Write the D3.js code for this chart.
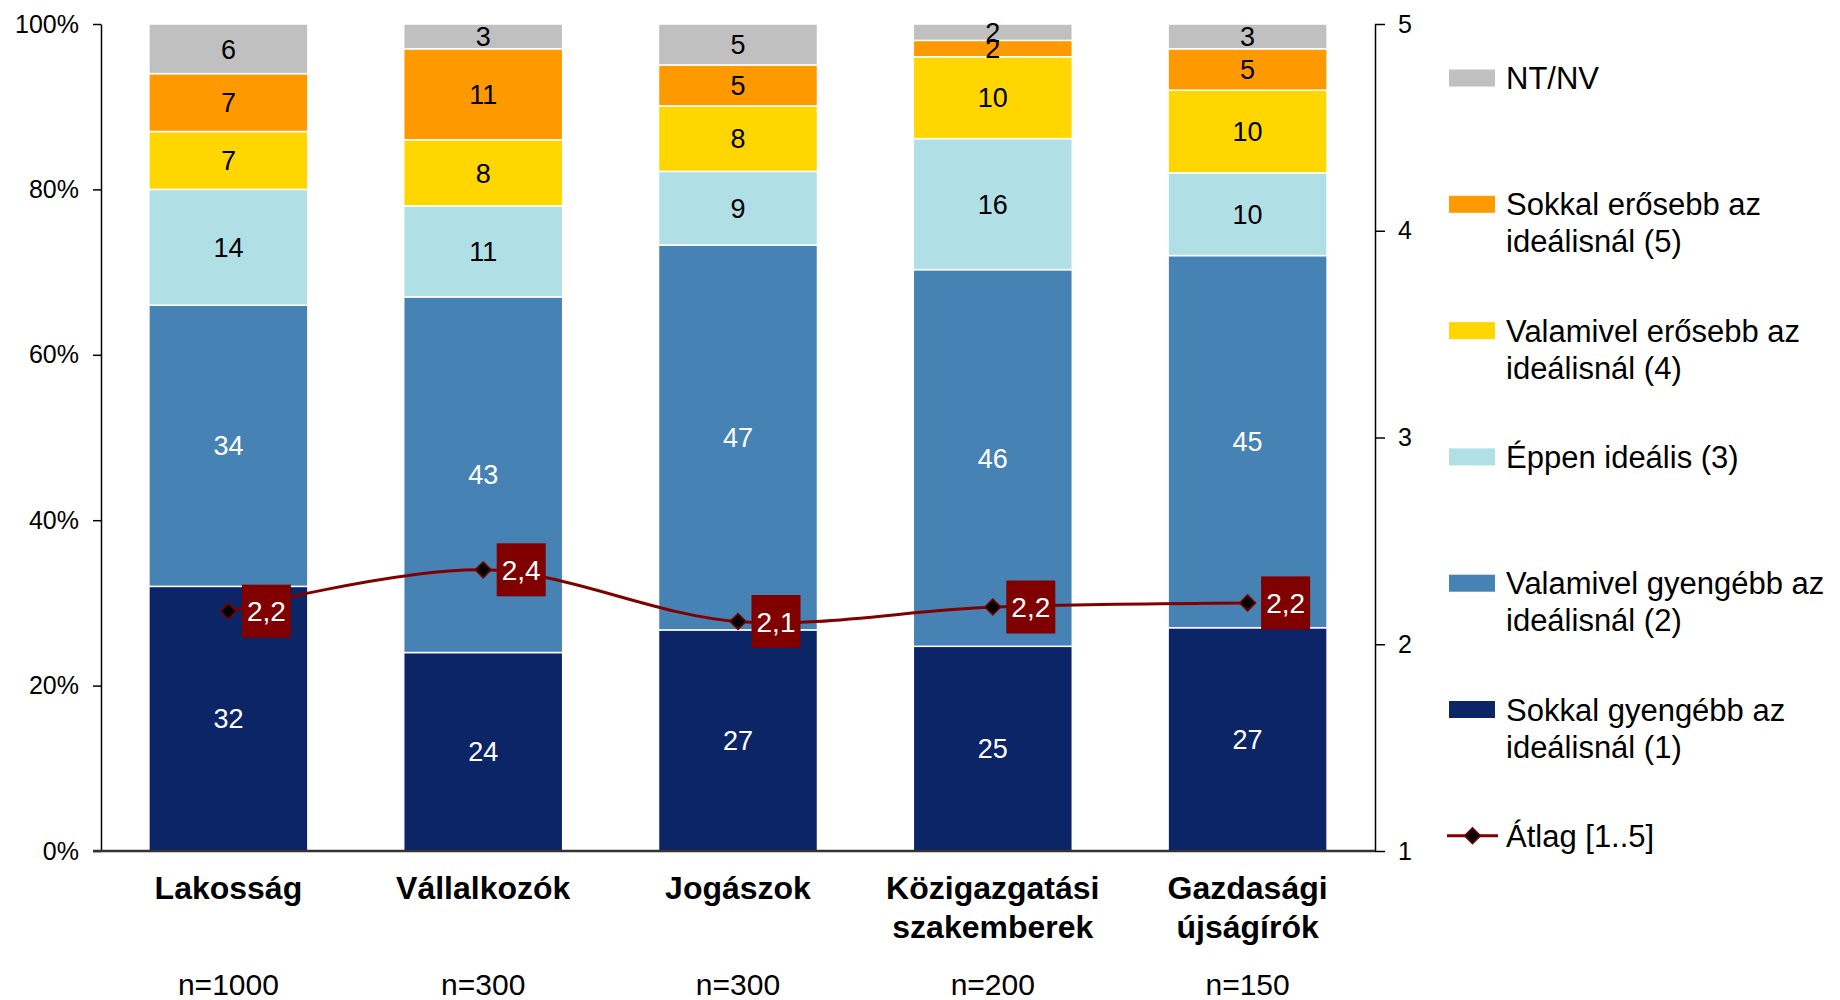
<!DOCTYPE html>
<html>
<head>
<meta charset="utf-8">
<script src="https://cdnjs.cloudflare.com/ajax/libs/d3/7.8.5/d3.min.js"></script>
<style>
    body { margin: 0; background: #fff; }
    svg { font-family: "Liberation Sans", Arial, sans-serif; }
</style>
</head>
<body>
<svg id="chart"></svg>
<script>
// categories (line breaks as in the original axis)
var categories = ["Lakosság", "Vállalkozók", "Jogászok", "Közigazgatási\nszakemberek", "Gazdasági\nújságírók"];
var sampleSizes = [1000, 300, 300, 200, 150];

// answer shares, %
var muchWeaker   = [32, 24, 27, 25, 27];
var weaker       = [34, 43, 47, 46, 45];
var ideal        = [14, 11,  9, 16, 10];
var stronger     = [ 7,  8,  8, 10, 10];
var muchStronger = [ 7, 11,  5,  2,  5];
var dontKnow     = [ 6,  3,  5,  2,  3];

// mean on 1..5 scale
var average = [2.16, 2.36, 2.11, 2.18, 2.20];

var seriesKeys = ["muchWeaker", "weaker", "ideal", "stronger", "muchStronger", "dontKnow"];
var seriesValues = [muchWeaker, weaker, ideal, stronger, muchStronger, dontKnow];
var seriesLabels = ["Sokkal gyengébb az\nideálisnál (1)", "Valamivel gyengébb az\nideálisnál (2)", "Éppen ideális (3)",
                    "Valamivel erősebb az\nideálisnál (4)", "Sokkal erősebb az\nideálisnál (5)", "NT/NV"];
var averageLabel = "Átlag [1..5]";
var leftTicks = [0, 0.2, 0.4, 0.6, 0.8, 1];
var rightTicks = [1, 2, 3, 4, 5];

var width = 1840,
    height = 1000,
    plotLeft = 101,
    plotRight = 1375,
    plotTop = 24,
    plotBottom = 851;

var colors = ["#0B2567", "#4682B4", "#B0DFE5", "#FFD600", "#FF9900", "#C0C0C0"];
var labelColors = ["#fff", "#fff", "#000", "#000", "#000", "#000"];
var lineColor = "#800000";

var svg = d3.select("#chart")
    .attr("width", width)
    .attr("height", height);

var table = categories.map(function(c, i) {
    var row = { cat: c, n: sampleSizes[i], avg: average[i] };
    seriesKeys.forEach(function(k, j) { row[k] = seriesValues[j][i]; });
    return row;
});

var stacked = d3.stack()
    .keys(seriesKeys)
    .offset(d3.stackOffsetExpand)(table);

var x = d3.scaleBand()
    .domain(categories)
    .range([plotLeft, plotRight])
    .paddingInner(0.376)
    .paddingOuter(0.188);

var y = d3.scaleLinear().domain([0, 1]).range([plotBottom, plotTop]);
var y2 = d3.scaleLinear().domain([1, 5]).range([plotBottom, plotTop]);

// bars
var layer = svg.selectAll("g.layer")
    .data(stacked)
    .enter().append("g")
    .attr("class", "layer")
    .style("fill", function(d, i) { return colors[i]; });

layer.selectAll("rect")
    .data(function(d) { return d; })
    .enter().append("rect")
    .attr("x", function(d) { return x(d.data.cat); })
    .attr("width", x.bandwidth())
    .attr("y", function(d) { return y(d[1]); })
    .attr("height", function(d) { return y(d[0]) - y(d[1]); })
    .style("stroke", "#fff")
    .style("stroke-width", 1.5);

// segment labels
stacked.forEach(function(s, i) {
    svg.append("g").selectAll("text")
        .data(s)
        .enter().append("text")
        .attr("x", function(d) { return x(d.data.cat) + x.bandwidth() / 2; })
        .attr("y", function(d) { return (y(d[0]) + y(d[1])) / 2; })
        .attr("dy", "0.36em")
        .attr("text-anchor", "middle")
        .style("font-size", "27px")
        .style("fill", labelColors[i])
        .text(function(d) { return d.data[s.key]; });
});

// axes
var axisL = svg.append("g")
    .attr("transform", "translate(" + plotLeft + ",0)")
    .call(d3.axisLeft(y).tickValues(leftTicks).tickFormat(d3.format(".0%")).tickSize(8).tickSizeOuter(0).tickPadding(14));

var axisR = svg.append("g")
    .attr("transform", "translate(" + plotRight + ",0)")
    .call(d3.axisRight(y2).tickValues(rightTicks).tickFormat(d3.format("d")).tickSize(10).tickSizeOuter(0).tickPadding(13));

[axisL, axisR].forEach(function(a) {
    a.selectAll("text").style("font-size", "25px").style("fill", "#000").style("font-family", "inherit");
    a.selectAll("line, path").style("stroke", "#000").style("stroke-width", 1.5);
});

svg.append("line")
    .attr("x1", plotLeft - 8).attr("x2", plotRight)
    .attr("y1", plotBottom).attr("y2", plotBottom)
    .style("stroke", "#333")
    .style("stroke-width", 2.5);

// category labels
var catG = svg.append("g").selectAll("text")
    .data(table)
    .enter().append("text")
    .attr("x", function(d) { return x(d.cat) + x.bandwidth() / 2; })
    .attr("y", 899)
    .attr("text-anchor", "middle")
    .style("font-size", "32px")
    .style("font-weight", "bold");

catG.selectAll("tspan")
    .data(function(d) { return d.cat.split("\n"); })
    .enter().append("tspan")
    .attr("x", function() { return this.parentNode.getAttribute("x"); })
    .attr("dy", function(d, i) { return i ? 39 : 0; })
    .text(function(d) { return d; });

svg.append("g").selectAll("text")
    .data(table)
    .enter().append("text")
    .attr("x", function(d) { return x(d.cat) + x.bandwidth() / 2; })
    .attr("y", 995)
    .attr("text-anchor", "middle")
    .style("font-size", "30px")
    .text(function(d) { return "n=" + d.n; });

// average line
var line = d3.line()
    .x(function(d) { return x(d.cat) + x.bandwidth() / 2; })
    .y(function(d) { return y2(d.avg); })
    .curve(d3.curveCatmullRom);

svg.append("path")
    .datum(table)
    .attr("d", line)
    .style("fill", "none")
    .style("stroke", lineColor)
    .style("stroke-width", 3);

function diamond(cx, cy, r) {
    return "M" + cx + "," + (cy - r) + "L" + (cx + r) + "," + cy + "L" + cx + "," + (cy + r) + "L" + (cx - r) + "," + cy + "Z";
}

svg.append("g").selectAll("path")
    .data(table)
    .enter().append("path")
    .attr("d", function(d) { return diamond(x(d.cat) + x.bandwidth() / 2, y2(d.avg), 8); })
    .style("fill", "#000")
    .style("stroke", lineColor)
    .style("stroke-width", 1.5);

var avgLabel = svg.append("g").selectAll("g")
    .data(table)
    .enter().append("g")
    .attr("transform", function(d) {
        return "translate(" + (x(d.cat) + x.bandwidth() / 2 + 38) + "," + y2(d.avg) + ")";
    });

avgLabel.append("rect")
    .attr("x", -24.5).attr("y", -26.5)
    .attr("width", 49).attr("height", 53)
    .style("fill", lineColor);

avgLabel.append("text")
    .attr("text-anchor", "middle")
    .attr("dy", "0.36em")
    .style("font-size", "28px")
    .style("fill", "#fff")
    .text(function(d) { return d3.format(".1f")(d.avg).replace(".", ","); });

// legend, top to bottom
var legendItems = seriesLabels.map(function(l, i) { return { label: l, color: colors[i] }; }).reverse();
legendItems.push({ label: averageLabel, line: true });

var legend = svg.append("g").selectAll("g")
    .data(legendItems)
    .enter().append("g")
    .attr("transform", function(d, i) { return "translate(1449," + (78 + i * 126.3) + ")"; });

legend.filter(function(d) { return !d.line; })
    .append("rect")
    .attr("x", 0).attr("y", -8.5)
    .attr("width", 46).attr("height", 17)
    .style("fill", function(d) { return d.color; });

var legLine = legend.filter(function(d) { return d.line; });
legLine.append("line")
    .attr("x1", -2).attr("x2", 49)
    .style("stroke", lineColor)
    .style("stroke-width", 3);
legLine.append("path")
    .attr("d", diamond(23.5, 0, 8))
    .style("fill", "#000")
    .style("stroke", lineColor)
    .style("stroke-width", 1.5);

legend.append("text")
    .attr("x", 57)
    .attr("y", 11)
    .style("font-size", "31px")
    .selectAll("tspan")
    .data(function(d) { return d.label.split("\n"); })
    .enter().append("tspan")
    .attr("x", 57)
    .attr("dy", function(d, i) { return i ? 37 : 0; })
    .text(function(d) { return d; });
</script>
</body>
</html>
